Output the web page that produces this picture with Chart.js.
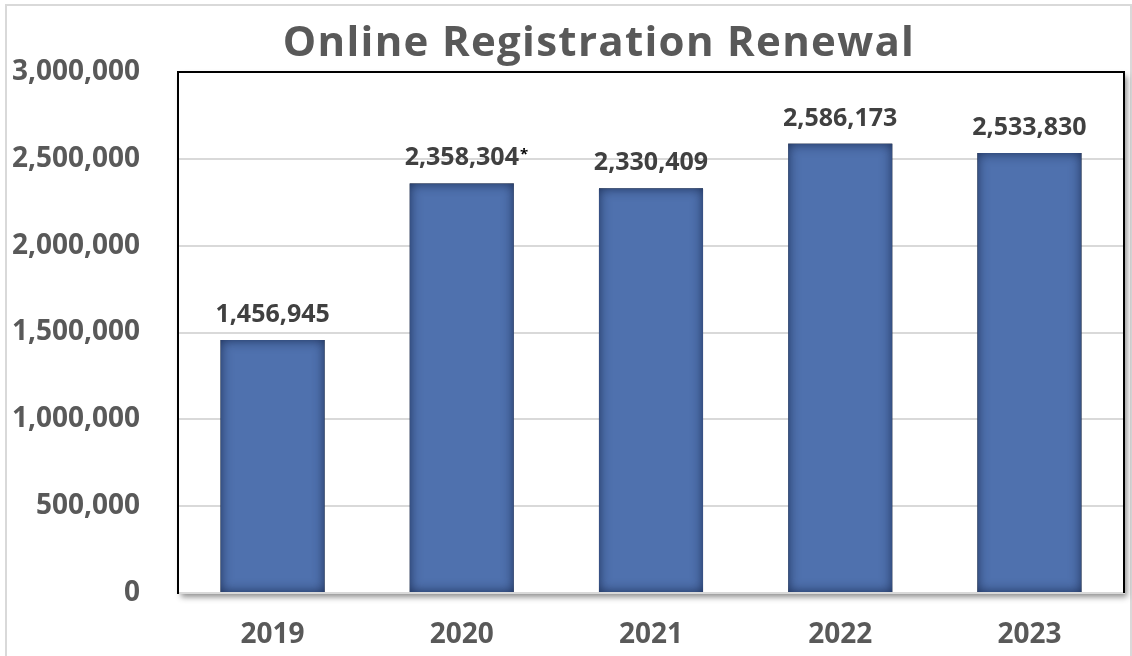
<!DOCTYPE html>
<html lang="en">
<head>
    <meta charset="UTF-8">
    <title>Online Registration Renewal</title>
    <style>
        body {
            margin: 0;
            background-color: #FFFFFF;
        }
        canvas {
            display: block;
        }
    </style>
</head>
<body>
    <canvas id="renewalChart" width="1132" height="656"></canvas>

    <script src="https://cdn.jsdelivr.net/npm/chart.js"></script>
    <script>
        const years = ['2019', '2020', '2021', '2022', '2023'];
        const renewals = [1456945, 2358304, 2330409, 2586173, 2533830];
        const notes = ['', '*', '', '', ''];
        const yTicks = [0, 500000, 1000000, 1500000, 2000000, 2500000, 3000000];

        const fontFamily = '"Open Sans", Arial, sans-serif';
        const axisGray = '#595959';
        const gridGray = '#D9D9D9';

        // white plot box with a soft drop shadow, plus the light outer frame
        const plotBox = {
            id: 'plotBox',
            beforeDraw(chart) {
                const { ctx, chartArea: a } = chart;
                ctx.save();
                ctx.strokeStyle = gridGray;
                ctx.lineWidth = 2;
                ctx.strokeRect(6, 5, 1125, 700);
                ctx.shadowColor = 'rgba(0, 0, 0, 0.45)';
                ctx.shadowBlur = 6;
                ctx.shadowOffsetX = 3;
                ctx.shadowOffsetY = 4;
                ctx.fillStyle = '#FFFFFF';
                ctx.fillRect(a.left, a.top, a.right - a.left, a.bottom - a.top);
                ctx.restore();
            },
            afterDatasetsDraw(chart) {
                const { ctx, chartArea: a } = chart;
                ctx.save();
                ctx.strokeStyle = '#000000';
                ctx.lineWidth = 2;
                ctx.beginPath();
                ctx.moveTo(a.left, a.bottom);
                ctx.lineTo(a.left, a.top);
                ctx.lineTo(a.right, a.top);
                ctx.lineTo(a.right, a.bottom);
                ctx.stroke();
                ctx.restore();
            }
        };

        // darkened inner edges on each bar
        const barShade = {
            id: 'barShade',
            afterDatasetsDraw(chart) {
                const { ctx } = chart;
                chart.getDatasetMeta(0).data.forEach(bar => {
                    const left = bar.x - bar.width / 2;
                    const top = bar.y;
                    const w = bar.width;
                    const h = bar.base - bar.y;
                    ctx.save();
                    ctx.beginPath();
                    ctx.rect(left, top, w, h);
                    ctx.clip();
                    ctx.shadowColor = 'rgba(20, 35, 70, 0.85)';
                    ctx.shadowBlur = 12;
                    ctx.fillStyle = '#000000';
                    ctx.beginPath();
                    ctx.rect(left - 40, top - 40, w + 80, h + 80);
                    ctx.rect(left, top, w, h);
                    ctx.fill('evenodd');
                    ctx.restore();
                });
            }
        };

        // value labels above the bars, and the chart title
        const valueLabels = {
            id: 'valueLabels',
            afterDraw(chart) {
                const { ctx } = chart;
                ctx.save();
                ctx.fillStyle = axisGray;
                ctx.font = `bold 42px ${fontFamily}`;
                ctx.letterSpacing = '1.3px';
                ctx.textAlign = 'center';
                ctx.textBaseline = 'alphabetic';
                ctx.fillText('Online Registration Renewal', 599, 56);
                ctx.letterSpacing = '0px';

                ctx.fillStyle = '#404040';
                ctx.font = `bold 25px ${fontFamily}`;
                chart.getDatasetMeta(0).data.forEach((bar, i) => {
                    const text = renewals[i].toLocaleString('en-US');
                    const y = bar.y - 18;
                    ctx.textAlign = 'center';
                    ctx.fillText(text, bar.x, y);
                    if (notes[i]) {
                        const half = ctx.measureText(text).width / 2;
                        ctx.save();
                        ctx.fillStyle = '#000000';
                        ctx.font = `bold 15px ${fontFamily}`;
                        ctx.textAlign = 'left';
                        ctx.fillText(notes[i], bar.x + half + 1, y - 6);
                        ctx.restore();
                    }
                });
                ctx.restore();
            }
        };

        const ctx = document.getElementById('renewalChart').getContext('2d');

        const renewalChart = new Chart(ctx, {
            type: 'bar',
            data: {
                labels: years,
                datasets: [{
                    label: 'Online Registration Renewal',
                    data: renewals,
                    backgroundColor: '#4F71AE',
                    borderWidth: 0,
                    categoryPercentage: 1,
                    barPercentage: 0.55
                }]
            },
            options: {
                responsive: false,
                animation: false,
                layout: {
                    padding: { top: 72, right: 8, left: 0, bottom: 0 }
                },
                plugins: {
                    legend: { display: false },
                    title: { display: false },
                    tooltip: { enabled: false }
                },
                scales: {
                    x: {
                        afterFit(scale) { scale.height = 63; },
                        grid: { display: false, drawTicks: false },
                        border: { color: gridGray, width: 2 },
                        ticks: {
                            color: axisGray,
                            padding: 25,
                            font: { family: fontFamily, size: 28, weight: 'bold' }
                        }
                    },
                    y: {
                        min: 0,
                        max: 3000000,
                        afterFit(scale) { scale.width = 178; },
                        afterBuildTicks(scale) {
                            scale.ticks = yTicks.map(v => ({ value: v }));
                        },
                        grid: { color: gridGray, lineWidth: 2, drawTicks: false },
                        border: { color: '#000000', width: 2 },
                        ticks: {
                            color: axisGray,
                            padding: 38,
                            font: { family: fontFamily, size: 28, weight: 'bold' },
                            callback: value => value.toLocaleString('en-US')
                        }
                    }
                }
            },
            plugins: [plotBox, barShade, valueLabels]
        });
    </script>
</body>
</html>
